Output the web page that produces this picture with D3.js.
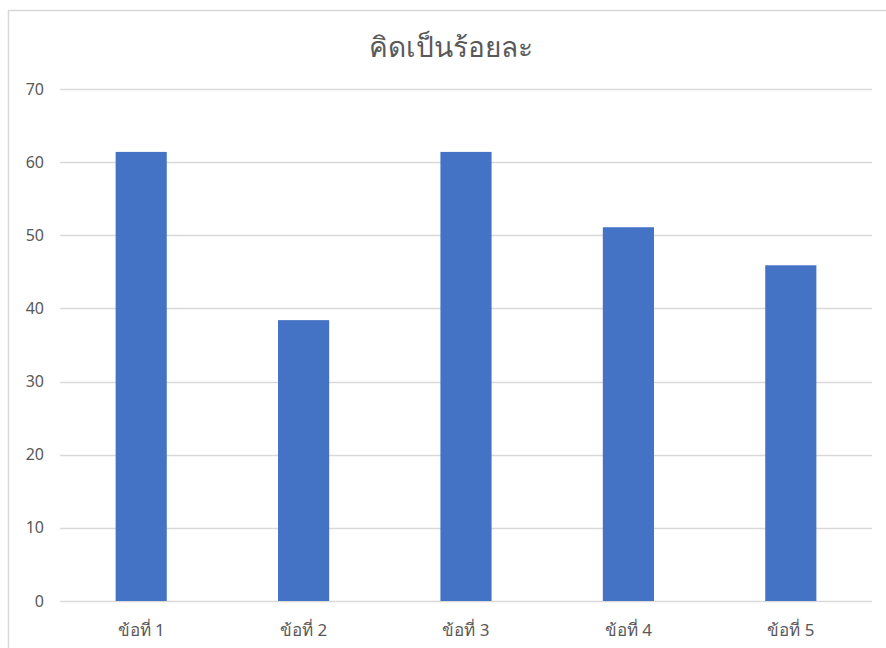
<!DOCTYPE html>
<html>
<head>
<meta charset="utf-8">
<script src="https://cdn.jsdelivr.net/npm/d3@7"></script>
<style>
  body { margin: 0; background: #fff; }
  svg { display: block; font-family: "Noto Sans", "DejaVu Sans", sans-serif; }
</style>
</head>
<body>
<div id="chart"></div>
<script>
const categories = ["ข้อที่ 1", "ข้อที่ 2", "ข้อที่ 3", "ข้อที่ 4", "ข้อที่ 5"]
const values = [61.4, 38.4, 61.4, 51.1, 45.9]
const yTicks = [0, 10, 20, 30, 40, 50, 60, 70]
const title = "คิดเป็นร้อยละ"

const width = 886
const height = 648
const margin = { left: 60, right: 14, top: 89, bottom: 47 }

const svg = d3.select("#chart")
    .append("svg")
    .attr("width", width)
    .attr("height", height)

// chart frame
svg.append("rect")
    .attr("x", 8.5)
    .attr("y", 10.5)
    .attr("width", width)
    .attr("height", height)
    .attr("fill", "none")
    .attr("stroke", "#d9d9d9")
    .attr("stroke-width", 1.5)

const x = d3.scaleBand()
    .domain(categories)
    .range([margin.left, width - margin.right])
    .paddingInner(0.685)
    .paddingOuter(0.3425)

const y = d3.scaleLinear()
    .domain([0, 70])
    .range([height - margin.bottom, margin.top])

// gridlines
svg.append("g")
    .selectAll("line")
    .data(yTicks)
    .join("line")
    .attr("x1", margin.left)
    .attr("x2", width - margin.right)
    .attr("y1", d => Math.round(y(d)) + 0.5)
    .attr("y2", d => Math.round(y(d)) + 0.5)
    .attr("stroke", "#d9d9d9")
    .attr("stroke-width", 1.3)

// y tick labels
svg.append("g")
    .selectAll("text")
    .data(yTicks)
    .join("text")
    .attr("x", 44)
    .attr("y", d => y(d))
    .attr("dy", "0.35em")
    .attr("text-anchor", "end")
    .attr("fill", "#595959")
    .style("font-size", "16px")
    .text(d => d)

// bars
svg.append("g")
    .selectAll("rect")
    .data(values)
    .join("rect")
    .attr("x", (d, i) => x(categories[i]))
    .attr("width", x.bandwidth())
    .attr("y", d => y(d))
    .attr("height", d => y(0) - y(d))
    .attr("fill", "#4472c4")

// x labels
svg.append("g")
    .selectAll("text")
    .data(categories)
    .join("text")
    .attr("x", d => x(d) + x.bandwidth() / 2)
    .attr("y", height - margin.bottom + 35)
    .attr("text-anchor", "middle")
    .attr("fill", "#595959")
    .style("font-size", "17px")
    .text(d => d)

svg.append("text")
    .attr("x", 451)
    .attr("y", 57)
    .attr("text-anchor", "middle")
    .attr("fill", "#595959")
    .style("font-size", "28px")
    .text(title)
</script>
</body>
</html>
